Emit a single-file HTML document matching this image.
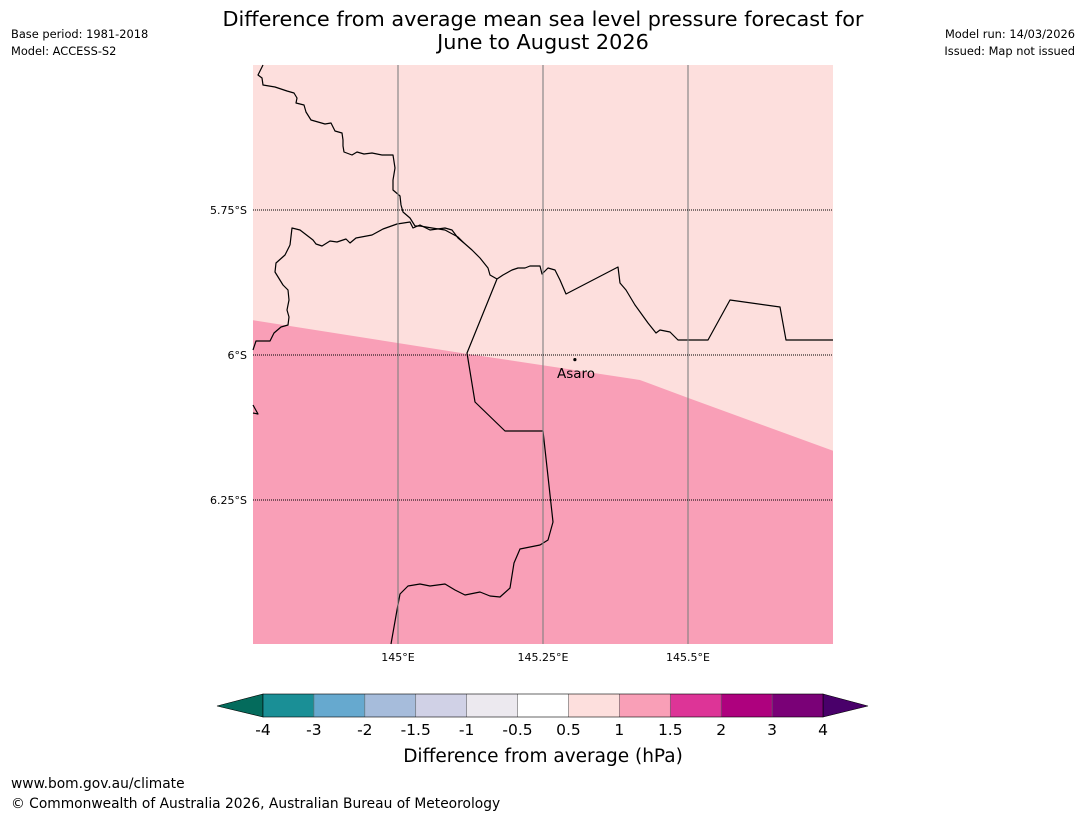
<!DOCTYPE html>
<html><head><meta charset="utf-8"><style>
body{margin:0;background:#fff;font-family:"DejaVu Sans","Liberation Sans",sans-serif;}
</style></head><body>
<svg id="chart" width="1085" height="816" xmlns="http://www.w3.org/2000/svg" font-family="DejaVu Sans, Liberation Sans, sans-serif">
<text x="543" y="26" font-size="20.8" text-anchor="middle">Difference from average mean sea level pressure forecast for</text>
<text x="543" y="49" font-size="20.8" text-anchor="middle">June to August 2026</text>
<text x="11" y="38" font-size="11.4">Base period: 1981-2018</text>
<text x="11" y="55" font-size="11.4">Model: ACCESS-S2</text>
<text x="1075" y="38" font-size="11.4" text-anchor="end">Model run: 14/03/2026</text>
<text x="1075" y="55" font-size="11.4" text-anchor="end">Issued: Map not issued</text>
<g id="map"></g>
<g id="cbar"></g>
<text x="543" y="762" font-size="18.5" text-anchor="middle">Difference from average (hPa)</text>
<text x="11" y="788" font-size="13.8">www.bom.gov.au/climate</text>
<text x="11" y="808" font-size="13.8">© Commonwealth of Australia 2026, Australian Bureau of Meteorology</text>
</svg>
<script>
const lonTicks=[145,145.25,145.5];
const lonLabels=["145°E","145.25°E","145.5°E"];
const latTicks=[5.75,6,6.25];
const latLabels=["5.75°S","6°S","6.25°S"];
const contourLon=[144.75,145.119,145.417,145.5,145.75];
const contourLat=[5.94,5.998,6.043,6.074,6.165];
const levelLabels=["-4","-3","-2","-1.5","-1","-0.5","0.5","1","1.5","2","3","4"];
const levelColors=["#1a8f96","#66a9cf","#a6bcdb","#d0d1e6","#ece9ef","#ffffff","#fddfdd","#f99fb7","#dd3497","#ae017e","#7a0177"];
const ns="http://www.w3.org/2000/svg";
const X0=253,X1=833,Y0=65,Y1=644,LON0=144.75,LAT0=5.5,PX=580;
const xs=l=>X0+(l-LON0)*PX, ys=l=>Y0+(l-LAT0)*PX;
function mk(p,t,a){const e=document.createElementNS(ns,t);for(const k in a)e.setAttribute(k,a[k]);p.appendChild(e);return e;}
const map=document.getElementById('map');
const bg=mk(map,'rect',{x:X0,y:Y0,width:X1-X0,height:Y1-Y0,fill:'#fddfdd'});


let d='M'+X0+','+Y1;
contourLon.forEach((l,i)=>{d+=' L'+xs(l)+','+ys(contourLat[i]);});
d+=' L'+X1+','+Y1+' Z';
const reg=mk(map,'path',{d:d,fill:'#f99fb7'});


const borders=["M263,65 L258,75 L262,78 L263,85 L275,87 L287,91 L294,93 L297,98 L296,103 L304,105 L306,112 L311,120 L318,122 L325,124 L331,123 L335,131 L342,133 L343,140 L343,146 L344,152 L352,155 L357,152 L364,154 L372,153 L382,155 L393,155 L395,168 L393,180 L393,190 L400,196 L401,205 L403,212 L410,218 L415,226 L420,226 L432,228 L445,230 L458,237 L464,243 L472,250 L480,258 L488,268 L490,275 L497,279",
"M290,245 L292,228 L300,230 L313,240 L316,244 L322,246 L330,241 L337,242 L346,239 L350,243 L356,238 L372,235 L383,229 L397,224 L410,222 L413,228 L420,225 L430,230 L445,228 L452,230 L458,238 L464,243",
"M290,245 L285,255 L276,263 L275,272 L283,285 L288,290 L289,300 L287,310 L289,317 L288,325 L281,327 L274,333 L270,341 L256,341 L253,350",
"M497,279 L503,275 L512,270 L518,268 L525,268 L530,266 L540,266 L542,274 L548,268 L555,270 L560,280 L566,294 L618,267 L620,283 L626,290 L635,305 L648,323 L656,333 L660,330 L670,332 L678,340 L708,340 L730,300 L780,307 L786,340 L833,340",
"M497,279 L467,353 L475,402 L505,431 L543,431 L553,522 L548,540 L540,545 L520,549 L514,563 L510,588 L500,597 L490,596 L480,592 L465,595 L455,590 L445,584 L430,586 L420,584 L408,586 L400,594 L397,610 L391,644",
"M253,405 L258,414 L253,413"];
borders.forEach((b,i)=>{const p=mk(map,'path',{d:b,fill:'none',stroke:'#000','stroke-width':1.2,'stroke-linejoin':'round'});

});
lonTicks.forEach((l,i)=>{const ln=mk(map,'line',{x1:xs(l),x2:xs(l),y1:Y0,y2:Y1,stroke:'#808080','stroke-width':1.1});


const t=mk(map,'text',{x:xs(l),y:Y1+17,'font-size':11,'text-anchor':'middle'});t.textContent=lonLabels[i];

});
latTicks.forEach((l,i)=>{const ln=mk(map,'line',{x1:X0,x2:X1,y1:ys(l),y2:ys(l),stroke:'#000','stroke-width':1,'stroke-dasharray':'1,1'});


const t=mk(map,'text',{x:X0-6,y:ys(l)+4,'font-size':11,'text-anchor':'end'});t.textContent=latLabels[i];

});
const dot=mk(map,'circle',{cx:xs(145.305),cy:ys(6.008),r:1.6,fill:'#000'});


const at=mk(map,'text',{x:557,y:378,'font-size':13.5});at.textContent='Asaro';


const cb=document.getElementById('cbar');const CX0=263,CX1=823,CY0=694,CY1=717,n=levelColors.length,w=(CX1-CX0)/n;
const lt=mk(cb,'polygon',{points:`217,706 ${CX0},${CY0} ${CX0},${CY1}`,fill:'#046b5c',stroke:'#000','stroke-width':0.6});


const rt=mk(cb,'polygon',{points:`868,706 ${CX1},${CY0} ${CX1},${CY1}`,fill:'#49006a',stroke:'#000','stroke-width':0.6});


levelColors.forEach((c,i)=>{const r=mk(cb,'rect',{x:CX0+i*w,y:CY0,width:w,height:CY1-CY0,fill:c});


if(i>0){mk(cb,'line',{x1:CX0+i*w,x2:CX0+i*w,y1:CY0,y2:CY1,stroke:'#666','stroke-width':0.6});}});
mk(cb,'rect',{x:CX0,y:CY0,width:CX1-CX0,height:CY1-CY0,fill:'none',stroke:'#000','stroke-width':0.6});
levelLabels.forEach((s,i)=>{const t=mk(cb,'text',{x:CX0+i*w,y:735,'font-size':15.5,'text-anchor':'middle'});t.textContent=s;

});
</script>
</body></html>
